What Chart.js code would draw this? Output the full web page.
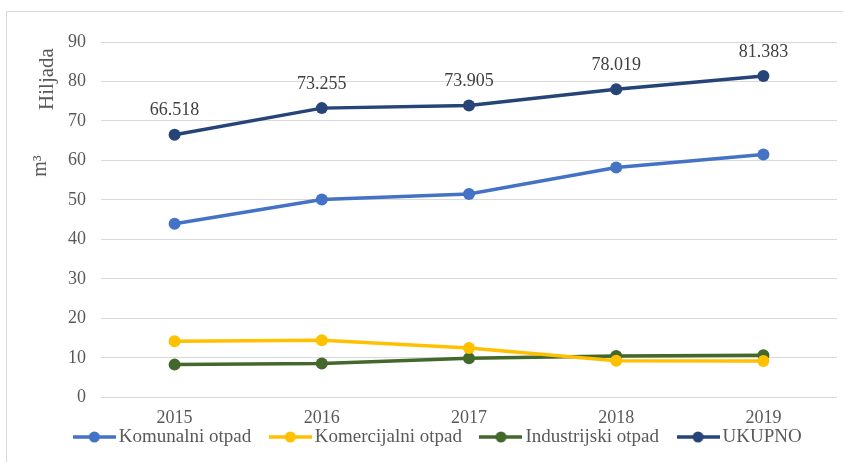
<!DOCTYPE html>
<html>
<head>
<meta charset="utf-8">
<script src="https://cdn.jsdelivr.net/npm/chart.js@4.4.1/dist/chart.umd.min.js"></script>
<style>
body{margin:0;background:#fff;}
#wrap{position:relative;width:843px;height:462px;overflow:hidden;}
#frame{position:absolute;left:6px;top:11px;width:900px;height:500px;border-left:1px solid #d9d9d9;border-top:1px solid #d9d9d9;}
canvas{position:absolute;left:0;top:0;}
</style>
</head>
<body>
<div id="wrap">
<div id="frame"></div>
<canvas id="myChart" width="843" height="462"></canvas>
</div>
<script>
// values (thousands of m3)
const years = ["2015","2016","2017","2018","2019"];
const komunalni = [44.0, 50.1, 51.5, 58.2, 61.5];
const komercijalni = [14.2, 14.5, 12.5, 9.3, 9.2];
const industrijski = [8.3, 8.6, 9.9, 10.5, 10.7];
const ukupno = [66.518, 73.255, 73.905, 78.019, 81.383];
const yTicks = [0,10,20,30,40,50,60,70,80,90];

const names = ["Komunalni otpad","Komercijalni otpad","Industrijski otpad","UKUPNO"];
const colors = ["#4472C4","#FFC000","#43682B","#264478"];
const FONT = "'Liberation Serif','Times New Roman',serif";
const TXT = "#595959";

//small line+dot picture for the legend
function legendIcon(color){
    const c = document.createElement('canvas');
    c.width = 43; c.height = 12;
    const g = c.getContext('2d');
    g.strokeStyle = color; g.lineWidth = 3.5;
    g.beginPath(); g.moveTo(0,6); g.lineTo(43,6); g.stroke();
    g.fillStyle = color;
    g.beginPath(); g.arc(21.5,6,5.5,0,Math.PI*2); g.fill();
    return c;
}

function makeSet(i, data){
    return {
        label:names[i],
        data,
        borderColor:colors[i],
        backgroundColor:colors[i],
        borderWidth:3.5,
        pointRadius:6,
        pointHoverRadius:6,
        pointBackgroundColor:colors[i],
        pointBorderWidth:0,
        tension:0,
        icon:legendIcon(colors[i])
    };
}

//labels above UKUPNO, rotated axis titles, legend size/position tweak
const extras = {
    id:'extras',
    beforeLayout(chart){
        const lg = chart.legend;
        if(lg && !lg._patched){
            const fit = lg.fit;
            lg.fit = function(){ fit.call(this); this.height = 34; };
            lg.draw = function(){ this._draw(); };   // no clipping
            lg._patched = true;
        }
    },
    beforeDraw(chart){
        const lg = chart.legend;
        if(lg && !lg._moved){
            const h = lg.bottom - lg.top;
            lg.left += 19; lg.right += 19;
            lg.top = 403.5; lg.bottom = 403.5 + h;
            lg._moved = true;
        }
    },
    afterDatasetsDraw(chart){
        const ctx = chart.ctx;
        const meta = chart.getDatasetMeta(3);
        ctx.save();
        ctx.font = "18px " + FONT;
        ctx.fillStyle = "#404040";
        ctx.textAlign = "center";
        ctx.textBaseline = "middle";
        meta.data.forEach((pt, i) => {
            ctx.fillText(ukupno[i].toFixed(3), pt.x, pt.y - 24);
        });
        ctx.font = "21px " + FONT;
        ctx.fillStyle = TXT;
        ctx.translate(47, 79);
        ctx.rotate(-Math.PI/2);
        ctx.fillText("Hiljada", 0, 0);
        ctx.restore();
        ctx.save();
        ctx.font = "20px " + FONT;
        ctx.fillStyle = TXT;
        ctx.textAlign = "center";
        ctx.textBaseline = "middle";
        ctx.translate(41, 166);
        ctx.rotate(-Math.PI/2);
        ctx.fillText("m³", 0, 0);
        ctx.restore();
    }
};

new Chart(document.getElementById('myChart').getContext('2d'), {
    type:'line',
    data:{
        labels:years,
        datasets:[makeSet(0,komunalni), makeSet(1,komercijalni), makeSet(2,industrijski), makeSet(3,ukupno)]
    },
    options:{
        responsive:false,
        animation:false,
        layout:{padding:{top:42,right:0,bottom:-11,left:0}},
        plugins:{
            tooltip:{enabled:false},
            legend:{
                position:'bottom',
                labels:{
                    usePointStyle:true,
                    pointStyleWidth:30,
                    padding:24,
                    color:TXT,
                    font:{family:FONT,size:19},
                    generateLabels(chart){
                        return chart.data.datasets.map((ds, i) => ({
                            text:ds.label,
                            pointStyle:ds.icon,
                            fillStyle:ds.borderColor,
                            strokeStyle:ds.borderColor,
                            lineWidth:0,
                            fontColor:TXT,
                            datasetIndex:i,
                            hidden:false
                        }));
                    }
                }
            }
        },
        scales:{
            x:{
                offset:true,
                afterFit(s){ s.paddingLeft = 0; s.paddingRight = 0; },
                grid:{display:false,drawTicks:false},
                border:{display:false},
                ticks:{color:TXT,font:{family:FONT,size:18},padding:10}
            },
            y:{
                min:0,
                max:90,
                afterFit(s){ s.width = 101; },
                afterBuildTicks(s){ s.ticks = yTicks.map(v => ({value:v})); },
                grid:{color:"#d9d9d9",lineWidth:1,drawTicks:false},
                border:{display:false},
                ticks:{color:TXT,font:{family:FONT,size:18},padding:15}
            }
        }
    },
    plugins:[extras]
});
</script>
</body>
</html>
